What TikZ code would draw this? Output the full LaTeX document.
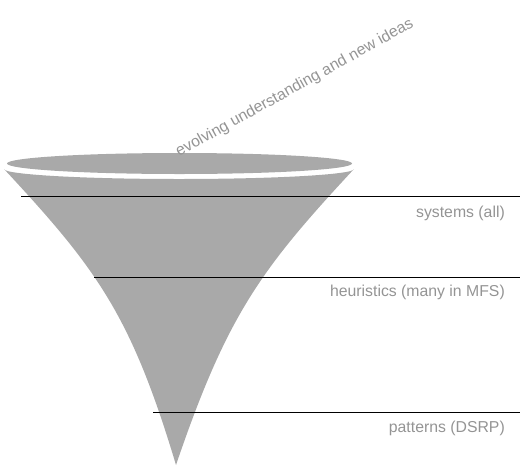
\documentclass[tikz,border=0pt]{standalone}
\usepackage{fontspec}
\setmainfont{Liberation Sans}
\definecolor{funnelgray}{RGB}{169,169,169}
\definecolor{labelgray}{RGB}{148,148,148}
\begin{document}
\begin{tikzpicture}[x=1pt,y=-1pt,
  levelline/.style={draw=black,line width=1pt},
  levellabel/.style={text=labelgray,font=\fontsize{15.8}{18}\selectfont,inner sep=0pt,anchor=base east},
  funnelfill/.style={fill=funnelgray}]
\useasboundingbox (0,0) rectangle (526,466);
% funnel body
\fill[funnelfill] (4,169) .. controls (97,269) and (131,315) .. (176,465)
  .. controls (227,315) and (261,269) .. (354,169)
  arc[start angle=0,end angle=180,x radius=175,y radius=10] -- cycle;
% funnel mouth
\fill[funnelfill] (179.5,163.5) ellipse[x radius=172.5,y radius=10.5];
% level lines
\coordinate (s1) at (21,196);  \coordinate (s2) at (520,196);
\coordinate (h1) at (94,277);  \coordinate (h2) at (520,277);
\coordinate (p1) at (153,412); \coordinate (p2) at (520,412);
\draw[levelline] (s1) -- (s2);
\draw[levelline] (h1) -- (h2);
\draw[levelline] (p1) -- (p2);
% labels
\node[levellabel] (systems) at (505,217) {systems (all)};
\node[levellabel] (heuristics) at (505,296) {heuristics (many in MFS)};
\node[levellabel] (patterns) at (505,432) {patterns (DSRP)};
\node[levellabel,anchor=base west,rotate=29] (ideas) at (179,157) {evolving understanding and new ideas};
\end{tikzpicture}
\end{document}
